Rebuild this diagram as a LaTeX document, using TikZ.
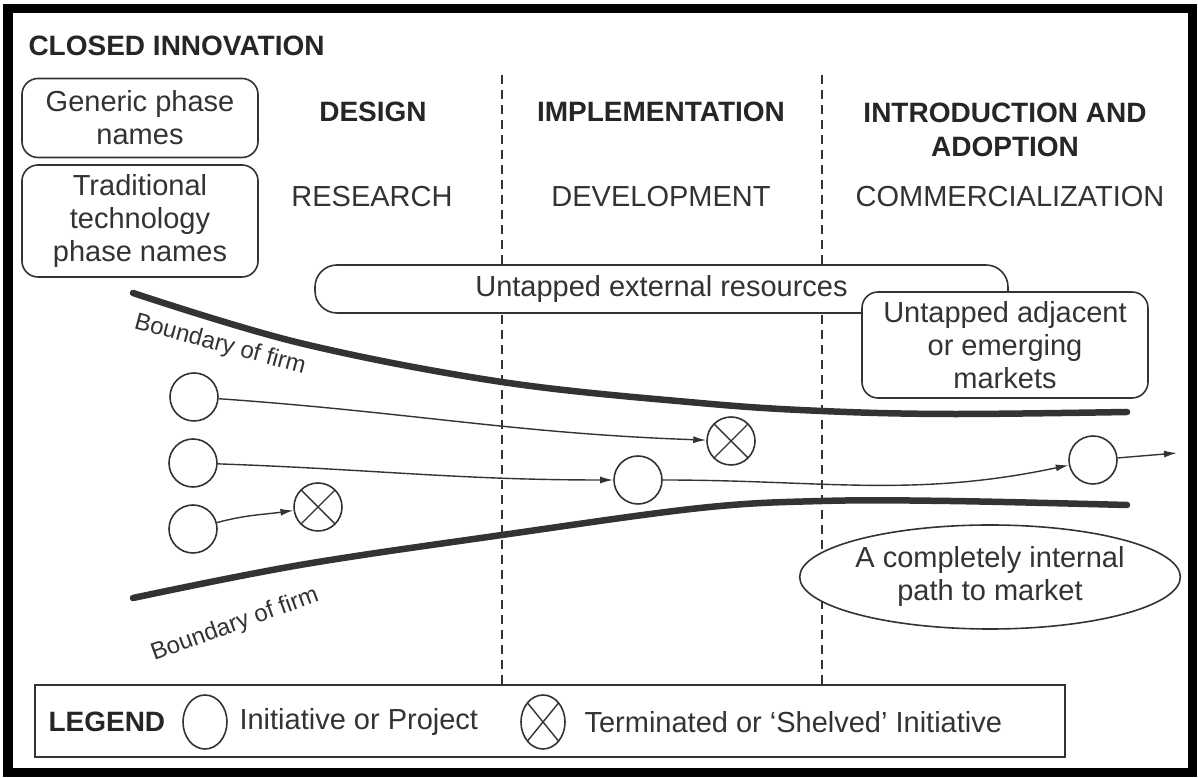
\documentclass[tikz,border=0pt]{standalone}
\usepackage{fontspec}
\setmainfont{Liberation Sans}
\usetikzlibrary{
    arrows.meta,
    shapes.geometric, % ellipse nodes
    positioning
}

\begin{document}
\begin{tikzpicture}[x=1pt, y=1pt,
    txt/.style={text=black!80, font=\fontsize{29}{33}\selectfont, align=center},
    head/.style={text=black!85, font=\fontsize{28}{34}\selectfont\bfseries, align=center},
    phasebox/.style={txt, draw=black!80, line width=1.6pt, rounded corners=16pt, fill=white},
    proj/.style={circle, draw=black!80, line width=1.6pt, fill=white, minimum size=48pt, inner sep=0pt},
    shelved/.style={proj, path picture={
        \draw[black!80, line width=1.4pt]
            (path picture bounding box.north west) -- (path picture bounding box.south east)
            (path picture bounding box.south west) -- (path picture bounding box.north east);}},
    flow/.style={draw=black!80, line width=1.4pt, -{Latex[length=13pt, width=7pt]}},
    boundary/.style={draw=black!80, line width=6.5pt, line cap=round},
    divider/.style={draw=black!80, line width=1.8pt, dash pattern=on 9pt off 6pt},
    firm/.style={text=black!80, font=\fontsize{24}{28}\selectfont}
]
    \useasboundingbox[fill=white] (0,0) rectangle (1198,778);
    \draw[line width=9.5pt] (8,5.5) rectangle (1192.5,769.5);

    % phase dividers
    \foreach \x [count=\i] in {502,822} {
        \coordinate (top\i) at (\x,703);
        \coordinate (bot\i) at (\x,93);
        \draw[divider] (top\i) -- (bot\i);
    }

    % header
    \node[head, anchor=west] (title) at (25,732) {CLOSED INNOVATION};
    \node[phasebox, minimum width=236pt, minimum height=79pt] (generic) at (140,660) {Generic phase\\names};
    \node[phasebox, minimum width=236pt, minimum height=112pt] (trad) at (140,557) {Traditional\\technology\\phase names};

    \node[head] (design) at (373,666) {DESIGN};
    \node[head] (impl) at (661,666) {IMPLEMENTATION};
    \node[head] (intro) at (1005,648) {INTRODUCTION AND\\ADOPTION};
    \node[txt] (research) at (372,581) {RESEARCH};
    \node[txt] (develop) at (661,581) {DEVELOPMENT};
    \node[txt] (commerce) at (1010,581) {COMMERCIALIZATION};

    % resources outside the firm
    \node[phasebox, minimum width=693pt, minimum height=48pt, rounded corners=22pt] (external) at (661.5,489) {Untapped external resources};
    \node[phasebox, minimum width=286pt, minimum height=106pt] (markets) at (1005,433) {Untapped adjacent\\or emerging\\markets};
    \node[txt, ellipse, draw=black!80, line width=1.6pt, fill=white, minimum width=374pt, minimum height=104pt, inner sep=0pt] (internal) at (990,201) {A completely internal\\path to market};

    % boundary of firm
    \draw[boundary] plot[smooth, tension=0.6] coordinates {(133,485) (300,435) (502,396) (700,375) (822,367) (950,364) (1127,366)};
    \draw[boundary] plot[smooth, tension=0.6] coordinates {(133,180) (300,213) (502,243) (700,270) (822,277) (950,277) (1127,273)};
    \node[firm, rotate=-15] (upper) at (220,433) {Boundary of firm};
    \node[firm, rotate=20] (lower) at (235,153) {Boundary of firm};

    % projects
    \node[proj] (a1) at (194,381) {};
    \node[proj] (a2) at (193,315) {};
    \node[proj] (a3) at (193,249) {};
    \node[shelved] (x1) at (318,271) {};
    \node[shelved] (x2) at (731,337) {};
    \node[proj] (b) at (638,298) {};
    \node[proj] (c) at (1093,318) {};
    \coordinate (market) at (1177,325);

    \draw[flow] (a1) to[out=-4, in=178] (x2);
    \draw[flow] (a2) to[out=-2, in=180] (b);
    \draw[flow] (a3) to[out=15, in=188] (x1);
    \draw[flow] (b) to[out=0, in=192] (c);
    \draw[flow] (c) -- (market);

    % legend
    \node[draw=black!80, line width=1.6pt, fill=white, minimum width=1030pt, minimum height=72pt] (legend) at (550,57) {};
    \node[head, anchor=west] (legtitle) at (45,56) {LEGEND};
    \node[proj, ellipse, minimum width=44pt, minimum height=54pt] (legproj) at (205,56) {};
    \node[txt, anchor=west] (legprojtxt) at (236,56) {Initiative or Project};
    \node[shelved, ellipse, minimum width=44pt, minimum height=54pt] (legshelved) at (543,56) {};
    \node[txt, anchor=west] (legshelvedtxt) at (581,56) {Terminated or `Shelved' Initiative};
\end{tikzpicture}
\end{document}
